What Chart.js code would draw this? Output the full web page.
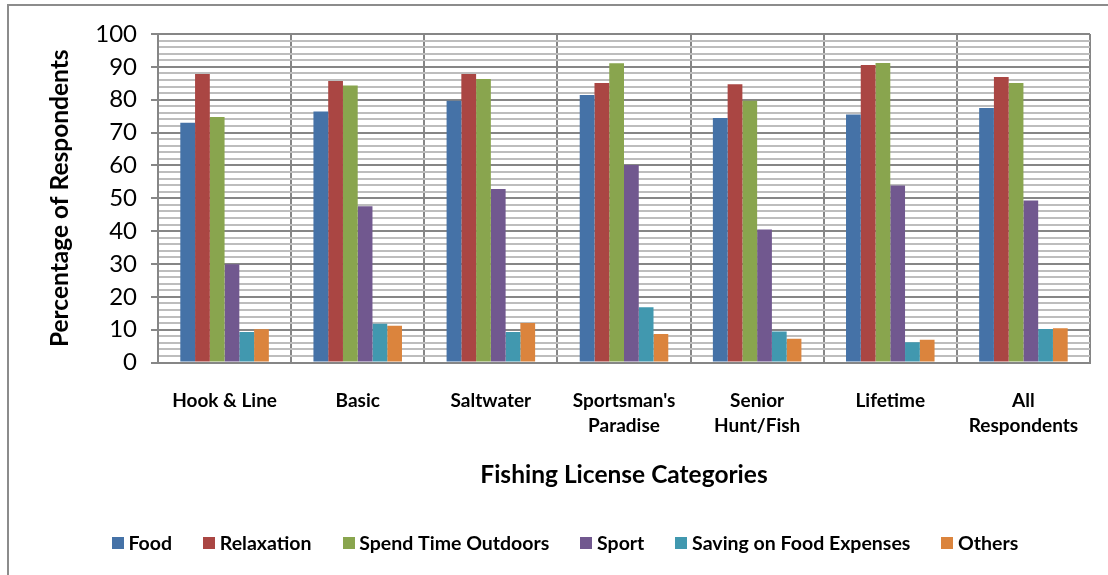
<!DOCTYPE html>
<html>
<head>
<meta charset="utf-8">
<script src="https://cdn.jsdelivr.net/npm/chart.js@4"></script>
<style>
    html, body { margin: 0; padding: 0; background: #fff; overflow: hidden; }
    #frame { position: absolute; left: 7px; top: 4px; width: 1200px; height: 700px;
             border-left: 2px solid #8c8c8c; border-top: 2px solid #8c8c8c; }
    #wrap { position: absolute; left: 0; top: 0; width: 1108px; height: 575px; }
</style>
</head>
<body>
<div id="frame"></div>
<div id="wrap"><canvas id="myChart"></canvas></div>
<script>
// kategorie licencji
const categories = [
    'Hook & Line',
    'Basic',
    'Saltwater',
    ["Sportsman's", 'Paradise'],
    ['Senior', 'Hunt/Fish'],
    'Lifetime',
    ['All', 'Respondents']
];

const food        = [73.0, 76.4, 79.7, 81.4, 74.4, 75.5, 77.5];
const relaxation  = [87.8, 85.7, 87.8, 85.1, 84.7, 90.6, 86.9];
const outdoors    = [74.7, 84.3, 86.3, 91.1, 79.7, 91.2, 85.1];
const sport       = [29.9, 47.6, 52.8, 60.1, 40.5, 53.9, 49.3];
const savingFood  = [9.3, 11.8, 9.3, 16.8, 9.4, 6.2, 10.2];
const others      = [10.1, 11.2, 12.0, 8.7, 7.2, 6.9, 10.4];

const seriesNames = ['Food', 'Relaxation', 'Spend Time Outdoors', 'Sport', 'Saving on Food Expenses', 'Others'];
const seriesColors = ['#4572A7', '#AA4643', '#89A54E', '#71588F', '#4198AF', '#DB843D'];
const yTicksMajor = [0, 10, 20, 30, 40, 50, 60, 70, 80, 90, 100];

// kwadracik do legendy (mniejszy odstęp od tekstu niż domyślny)
function makeSwatch(color) {
    const c = document.createElement('canvas');
    c.width = 12;
    c.height = 12;
    const g = c.getContext('2d');
    g.fillStyle = color;
    g.fillRect(0, 0, 12, 12);
    return c;
}

document.addEventListener('DOMContentLoaded', function() {
    const ctx = document.getElementById('myChart').getContext('2d');
    const allSeries = [food, relaxation, outdoors, sport, savingFood, others];

    const data = {
        labels: categories,
        datasets: allSeries.map((values, i) => ({
            label: seriesNames[i],
            data: values,
            backgroundColor: seriesColors[i],
            pointStyle: makeSwatch(seriesColors[i]),
            borderWidth: 0,
            categoryPercentage: 0.665,
            barPercentage: 1.0
        }))
    };

    const isMajor = v => yTicksMajor.includes(v);

    const options = {
        responsive: true,
        maintainAspectRatio: false,
        animation: false,
        layout: { padding: { top: 34, right: 18, bottom: 12, left: 45 } },
        plugins: {
            tooltip: { enabled: false },
            legend: {
                position: 'bottom',
                labels: {
                    usePointStyle: true,
                    pointStyleWidth: 2,
                    boxHeight: 12,
                    padding: 36,
                    color: '#000',
                    font: { family: 'Lato', size: 19.5, weight: 'bold' }
                }
            }
        },
        scales: {
            x: {
                grid: {
                    offset: true,
                    color: '#868686',
                    lineWidth: 2,
                    drawTicks: false,
                    tickLength: 0
                },
                border: { color: '#868686', width: 2 },
                ticks: {
                    color: '#000',
                    padding: 26,
                    maxRotation: 0,
                    autoSkip: false,
                    font: { family: 'Lato', size: 19, weight: 'bold', lineHeight: 1.3 }
                },
                title: {
                    display: true,
                    text: 'Fishing License Categories',
                    color: '#000',
                    padding: { top: 0, bottom: 8 },
                    font: { family: 'Lato', size: 24.5, weight: 'bold' }
                },
                afterFit: function(scale) { scale.height = 135; }
            },
            y: {
                min: 0,
                max: 100,
                grid: {
                    color: c => isMajor(c.tick.value) ? '#868686' : '#bdbdbd',
                    tickColor: c => isMajor(c.tick.value) ? '#868686' : 'rgba(0,0,0,0)',
                    lineWidth: 2,
                    tickLength: 7
                },
                border: { color: '#868686', width: 2 },
                ticks: {
                    stepSize: 2,
                    autoSkip: false,
                    color: '#000',
                    padding: 14,
                    callback: v => isMajor(v) ? v : '',
                    font: { family: 'Lato', size: 24 }
                },
                title: {
                    display: true,
                    text: 'Percentage of Respondents',
                    color: '#000',
                    padding: { top: 0, bottom: 0 },
                    font: { family: 'Lato', size: 24.5, weight: 'bold' }
                },
                afterFit: function(scale) { scale.width = 113; }
            }
        }
    };

    const myChart = new Chart(ctx, {
        type: 'bar',
        data: data,
        options: options
    });
});
</script>
</body>
</html>
